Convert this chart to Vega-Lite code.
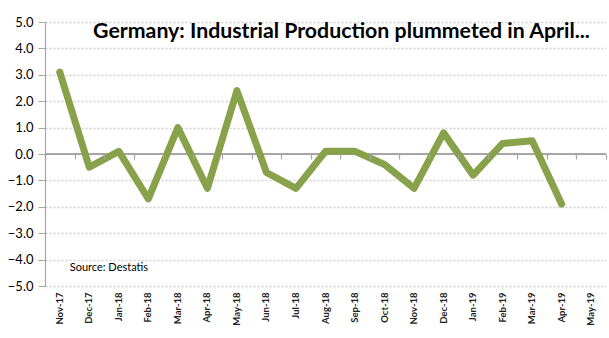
{
  "$schema": "https://vega.github.io/schema/vega-lite/v6.json",
  "width": 561,
  "height": 264,
  "autosize": "none",
  "padding": {"left": 45, "top": 22, "right": 3, "bottom": 52},
  "background": "white",
  "config": {"view": {"stroke": null}, "font": "Lato"},
  "title": {
    "text": "Germany: Industrial Production plummeted in April...",
    "font": "Lato",
    "fontSize": 21.3,
    "fontWeight": "bold",
    "color": "#000000",
    "anchor": "middle",
    "baseline": "top",
    "offset": -26,
    "dx": 16
  },
  "datasets": {
    "ip": [
      {"month": "Nov-17", "value": 3.1},
      {"month": "Dec-17", "value": -0.5},
      {"month": "Jan-18", "value": 0.1},
      {"month": "Feb-18", "value": -1.7},
      {"month": "Mar-18", "value": 1.0},
      {"month": "Apr-18", "value": -1.3},
      {"month": "May-18", "value": 2.4},
      {"month": "Jun-18", "value": -0.7},
      {"month": "Jul-18", "value": -1.3},
      {"month": "Aug-18", "value": 0.1},
      {"month": "Sep-18", "value": 0.1},
      {"month": "Oct-18", "value": -0.4},
      {"month": "Nov-18", "value": -1.3},
      {"month": "Dec-18", "value": 0.8},
      {"month": "Jan-19", "value": -0.8},
      {"month": "Feb-19", "value": 0.4},
      {"month": "Mar-19", "value": 0.5},
      {"month": "Apr-19", "value": -1.9}
    ],
    "note": [{"month": "Nov-17", "value": -4.3, "label": "Source: Destatis"}]
  },
  "resolve": {"axis": {"x": "independent", "y": "independent"}},
  "layer": [
    {
      "data": {"name": "ip"},
      "mark": {"type": "rule", "color": "#a6a6a6", "strokeWidth": 1.5},
      "encoding": {
        "y": {"datum": 0, "type": "quantitative", "axis": null}
      }
    },
    {
      "data": {"name": "ip"},
      "mark": {"type": "point", "opacity": 0},
      "encoding": {
        "x": {
          "field": "month", "type": "ordinal",
          "axis": {
            "orient": "top", "offset": -137, "labels": false, "title": null,
            "domain": false, "ticks": true, "tickBand": "extent", "tickSize": 5, "tickWidth": 1.2,
            "tickColor": "#a6a6a6", "grid": false, "zindex": 1
          }
        },
        "y": {"field": "value", "type": "quantitative", "axis": null}
      }
    },
    {
      "data": {"name": "ip"},
      "mark": {"type": "line", "color": "#87a24a", "strokeWidth": 7, "strokeCap": "round", "strokeJoin": "round"},
      "encoding": {
        "x": {
          "field": "month", "type": "ordinal", "sort": null,
          "scale": {
            "type": "band", "paddingInner": 0, "paddingOuter": 0,
            "domain": ["Nov-17","Dec-17","Jan-18","Feb-18","Mar-18","Apr-18","May-18","Jun-18","Jul-18","Aug-18","Sep-18","Oct-18","Nov-18","Dec-18","Jan-19","Feb-19","Mar-19","Apr-19","May-19"]
          },
          "axis": {
            "orient": "bottom", "title": null, "domain": false, "ticks": false,
            "labelAngle": -90, "labelFont": "Lato", "labelFontSize": 9.5, "labelFontWeight": "bold",
            "labelColor": "#222222", "labelPadding": 6, "grid": false
          }
        },
        "y": {
          "field": "value", "type": "quantitative",
          "scale": {"domain": [-5, 5], "nice": false},
          "axis": {
            "orient": "left",
            "title": null, "values": [-5,-4,-3,-2,-1,0,1,2,3,4,5], "format": ".1f",
            "labelOverlap": false,
            "labelFont": "Lato", "labelFontSize": 13, "labelColor": "#000000", "labelPadding": 5,
            "domainColor": "#a6a6a6", "domainWidth": 1.2, "tickColor": "#a6a6a6", "tickSize": 7,
            "grid": true, "gridColor": "#d0d0d0", "gridDash": [2, 2], "gridWidth": 1.3
          }
        }
      }
    },
    {
      "data": {"name": "note"},
      "mark": {"type": "text", "align": "left", "baseline": "middle", "dx": 10, "fontSize": 11, "font": "Lato", "color": "#000000"},
      "encoding": {
        "x": {"field": "month", "type": "ordinal", "axis": null},
        "y": {"field": "value", "type": "quantitative", "axis": null},
        "text": {"field": "label"}
      }
    }
  ]
}
